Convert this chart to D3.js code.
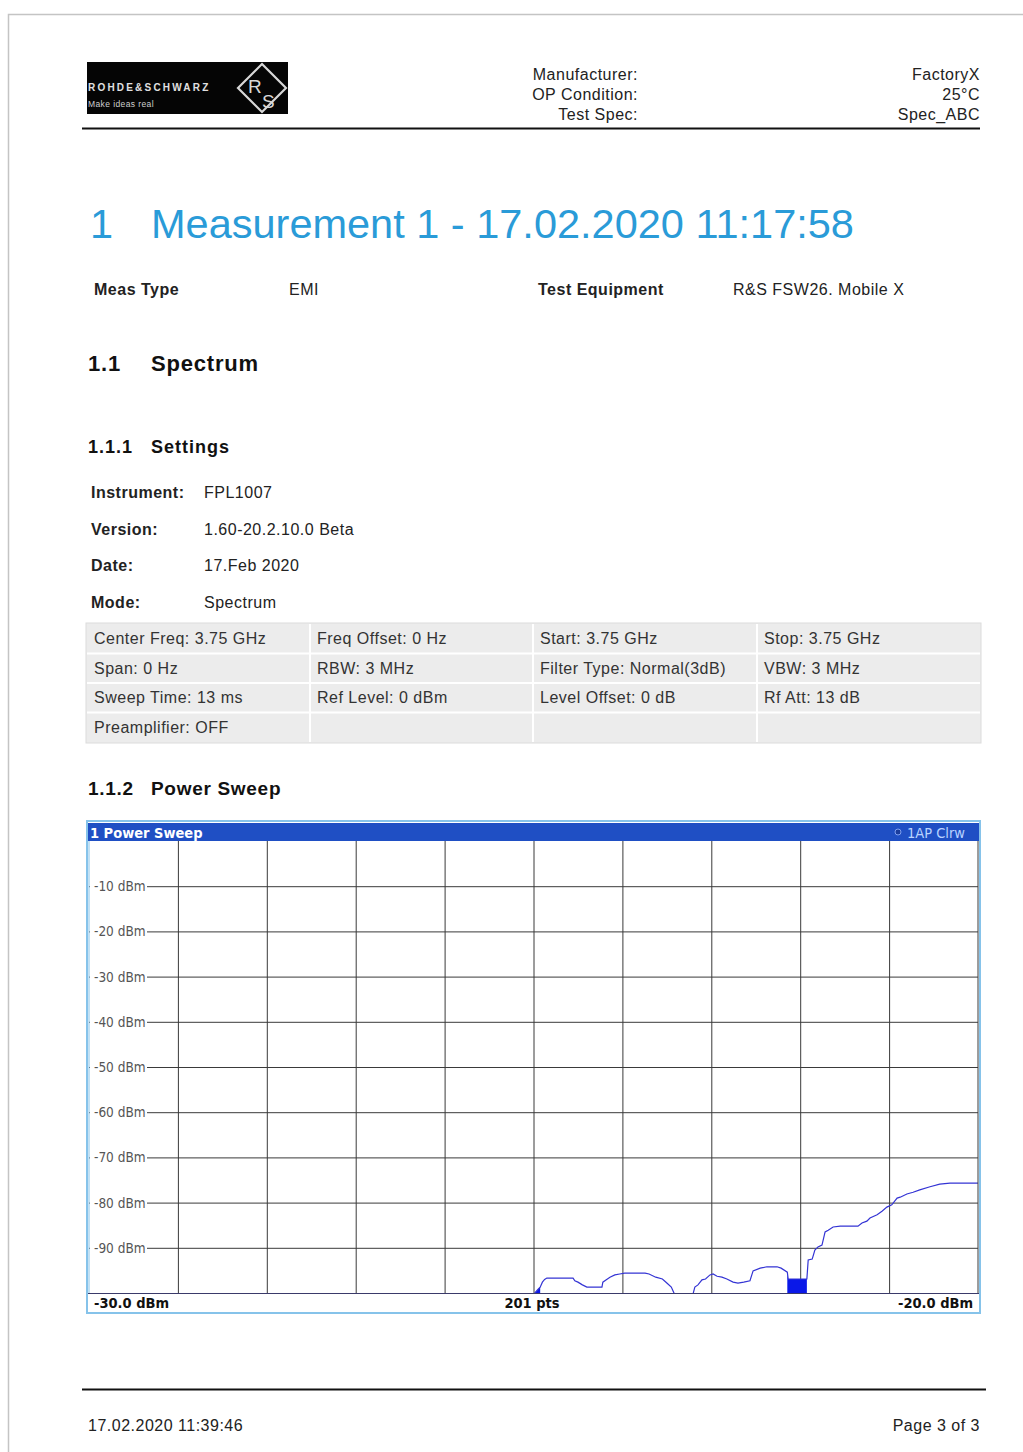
<!DOCTYPE html>
<html>
<head>
<meta charset="utf-8">
<script src="https://cdn.jsdelivr.net/npm/d3@7"></script>
<style>
  html, body { margin: 0; padding: 0; background: #fff; }
  svg { display: block; }
  text { font-family: "Liberation Sans", Arial, sans-serif; }
  .instr { font-family: "DejaVu Sans Condensed", "Liberation Sans Narrow", sans-serif; }
</style>
</head>
<body>
<script>
// ---- report header / settings ----
const headerLabels = ["Manufacturer:", "OP Condition:", "Test Spec:"];
const headerValues = ["FactoryX", "25°C", "Spec_ABC"];
const infoLabels = ["Instrument:", "Version:", "Date:", "Mode:"];
const infoValues = ["FPL1007", "1.60-20.2.10.0 Beta", "17.Feb 2020", "Spectrum"];
const settingsRows = [
  ["Center Freq: 3.75 GHz", "Freq Offset: 0 Hz", "Start: 3.75 GHz", "Stop: 3.75 GHz"],
  ["Span: 0 Hz", "RBW: 3 MHz", "Filter Type: Normal(3dB)", "VBW: 3 MHz"],
  ["Sweep Time: 13 ms", "Ref Level: 0 dBm", "Level Offset: 0 dB", "Rf Att: 13 dB"],
  ["Preamplifier: OFF", "", "", ""]
];

// ---- power sweep trace (201 sweep points, level in dBm) ----
const sweepPoints = 201;
const levelTicks = [-10, -20, -30, -40, -50, -60, -70, -80, -90];
const levelTickLabels = ["-10 dBm", "-20 dBm", "-30 dBm", "-40 dBm", "-50 dBm", "-60 dBm", "-70 dBm", "-80 dBm", "-90 dBm"];
const gridPoints = [20, 40, 60, 80, 100, 120, 140, 160, 180];
// trace vertices: sweep point index and measured level
const traceIndex = [99.9, 100.3, 101.0, 101.5, 102.0, 102.5, 103.0, 108.9, 109.3, 110.0, 111.0, 112.0,
  115.4, 115.6, 116.3, 117.2, 118.3, 119.4, 120.5, 125.1, 126.0, 127.5, 129.0, 130.0, 131.0, 131.6,
  131.8, 135.7, 136.0, 136.3, 137.0, 137.9, 138.7, 139.7, 140.4, 141.3, 142.4, 143.5, 144.9, 146.0,
  147.3, 148.7, 149.4, 151.0, 152.5, 154.8, 155.7, 157.1, 157.3, 161.5, 161.8, 162.7, 163.3, 164.0,
  164.9, 165.6, 166.3, 167.4, 169.0, 173.0, 173.9, 175.0, 175.7, 177.3, 178.4, 179.5, 180.6, 181.8,
  182.5, 184.0, 185.4, 186.9, 189.2, 191.4, 193.7, 200];
const traceLevel = [-100.5, -100, -99.2, -98.7, -97.6, -97.0, -96.7, -96.7, -97.3, -97.6, -98.2, -98.7,
  -98.7, -97.6, -97.1, -96.5, -96.0, -95.8, -95.6, -95.6, -95.8, -96.5, -96.9, -97.8, -98.7, -100,
  -101, -101, -99.8, -98.7, -98.2, -97.1, -96.9, -96.0, -95.8, -96.3, -96.5, -96.9, -97.6, -97.8,
  -97.6, -97.3, -95.1, -94.5, -94.2, -94.2, -94.5, -95.4, -96.9, -96.9, -92.7, -92.5, -90.5, -89.8,
  -89.4, -86.5, -86.1, -85.4, -85.2, -85.2, -84.5, -84.1, -83.4, -82.7, -81.9, -81.0, -80.5, -79.0,
  -78.8, -78.1, -77.7, -77.2, -76.5, -75.9, -75.7, -75.7];
// sweep point ranges where auto peak min/max spread fills down below the display
const burstStart = [100.3, 157.1];
const burstEnd = [101.5, 161.5];

const W = 1023, H = 1452;
const svg = d3.select("body").append("svg").attr("width", W).attr("height", H);
svg.append("rect").attr("width", W).attr("height", H).attr("fill", "#fff");

// body text helper (report font)
function txt(xp, yp, s, opts = {}) {
  const t = svg.append("text").attr("x", xp).attr("y", yp).text(s)
    .attr("font-size", opts.size || 16)
    .attr("letter-spacing", opts.ls != null ? opts.ls : 0.5)
    .attr("fill", opts.fill || "#222");
  if (opts.bold) t.attr("font-weight", "bold");
  if (opts.anchor) t.attr("text-anchor", opts.anchor);
  return t;
}

// page edge
svg.append("path").attr("d", "M8.5,1452 V14.5 H1023").attr("fill", "none").attr("stroke", "#c4c4c4").attr("stroke-width", 1.5);

// ---- logo ----
const logo = svg.append("g");
logo.append("rect").attr("x", 87).attr("y", 62).attr("width", 201).attr("height", 52).attr("fill", "#050505");
logo.append("text").attr("x", 88).attr("y", 91).text("ROHDE&SCHWARZ")
  .attr("fill", "#e0e0e0").attr("font-size", 10).attr("font-weight", "bold").attr("letter-spacing", 2.2);
logo.append("text").attr("x", 88).attr("y", 107).text("Make ideas real")
  .attr("fill", "#cfcfcf").attr("font-size", 8.5).attr("letter-spacing", 0.4);
logo.append("path").attr("d", "M262,64 L286,88 L262,112 L238,88 Z")
  .attr("fill", "none").attr("stroke", "#d8d8d8").attr("stroke-width", 2.2);
logo.append("text").attr("x", 248).attr("y", 93).text("R").attr("fill", "#d8d8d8").attr("font-size", 19);
logo.append("text").attr("x", 262).attr("y", 108).text("S").attr("fill", "#d8d8d8").attr("font-size", 19);

// ---- header ----
headerLabels.forEach((t, i) => txt(638, 80 + i * 20, t, { anchor: "end" }));
headerValues.forEach((t, i) => txt(980, 80 + i * 20, t, { anchor: "end" }));
svg.append("line").attr("x1", 82).attr("x2", 980).attr("y1", 128.5).attr("y2", 128.5)
  .attr("stroke", "#111").attr("stroke-width", 2);

// ---- title ----
txt(90, 238, "1", { size: 41.5, ls: 0, fill: "#2a9bd8" });
txt(151, 238, "Measurement 1 - 17.02.2020 11:17:58", { size: 41.5, ls: 0, fill: "#2a9bd8" });

txt(94, 295, "Meas Type", { bold: true });
txt(289, 295, "EMI");
txt(538, 295, "Test Equipment", { bold: true });
txt(733, 295, "R&S FSW26. Mobile X");

txt(88, 371, "1.1", { size: 22, ls: 0.8, bold: true, fill: "#111" });
txt(151, 371, "Spectrum", { size: 22, ls: 0.8, bold: true, fill: "#111" });

txt(88, 453, "1.1.1", { size: 18, ls: 1.0, bold: true, fill: "#111" });
txt(151, 453, "Settings", { size: 18, ls: 1.0, bold: true, fill: "#111" });

infoLabels.forEach((t, i) => txt(91, 498 + i * 36.5, t, { bold: true }));
infoValues.forEach((t, i) => txt(204, 498 + i * 36.5, t));

// ---- settings table ----
const colX = [87, 310, 533, 757, 980], rowY0 = 624, rowH = 29.5;
svg.append("rect").attr("x", 86).attr("y", 623).attr("width", 895).attr("height", 120)
  .attr("fill", "#ececec").attr("stroke", "#dcdcdc");
settingsRows.forEach((row, r) => {
  row.forEach((cell, c) => txt(colX[c] + 7, rowY0 + r * rowH + 20, cell, { fill: "#333" }));
  if (r > 0) svg.append("line").attr("x1", 87).attr("x2", 980).attr("y1", rowY0 + r * rowH).attr("y2", rowY0 + r * rowH)
    .attr("stroke", "#fff").attr("stroke-width", 2);
});
colX.slice(1, 4).forEach(cx => {
  svg.append("line").attr("x1", cx).attr("x2", cx).attr("y1", 624).attr("y2", 742).attr("stroke", "#fff").attr("stroke-width", 2);
});

txt(88, 795, "1.1.2", { size: 19, ls: 0.7, bold: true, fill: "#111" });
txt(151, 795, "Power Sweep", { size: 19, ls: 0.7, bold: true, fill: "#111" });

// ---- power sweep diagram ----
const plot = { left: 89, right: 978, top: 841, bottom: 1293 };
const x = d3.scaleLinear().domain([0, sweepPoints - 1]).range([plot.left, plot.right]);
const y = d3.scaleLinear().domain([0, -100]).range([plot.top, plot.bottom]);

const chart = svg.append("g");
chart.append("rect").attr("x", 87).attr("y", 821).attr("width", 893).attr("height", 492)
  .attr("fill", "#fff").attr("stroke", "#86c3ea").attr("stroke-width", 2);
chart.append("rect").attr("x", 88).attr("y", 823).attr("width", 891).attr("height", 18).attr("fill", "#1f4fc4");
chart.append("text").attr("class", "instr").attr("x", 90).attr("y", 838).attr("font-size", 14.5)
  .attr("font-weight", "bold").attr("fill", "#fff").text("1 Power Sweep");
chart.append("circle").attr("cx", 898).attr("cy", 832).attr("r", 3).attr("fill", "#1a3c9c").attr("stroke", "#7fa0f0");
chart.append("text").attr("class", "instr").attr("x", 965).attr("y", 838).attr("text-anchor", "end")
  .attr("font-size", 14.5).attr("fill", "#b9d3ff").text("1AP Clrw");

// grid through the axes
chart.append("g").attr("transform", `translate(0,${plot.bottom})`)
  .call(d3.axisBottom(x).tickValues(gridPoints).tickSize(-(plot.bottom - plot.top)).tickFormat(""))
  .call(g => g.select(".domain").remove())
  .call(g => g.selectAll("line").attr("stroke", "#3a3a3a").attr("stroke-width", 1));
chart.append("g").attr("transform", `translate(${plot.left},0)`)
  .call(d3.axisRight(y).tickValues(levelTicks).tickSize(plot.right - plot.left).tickFormat(""))
  .call(g => g.select(".domain").remove())
  .call(g => g.selectAll("line").attr("stroke", "#3a3a3a").attr("stroke-width", 1));

// level labels with white backing
levelTicks.forEach((v, i) => {
  chart.append("rect").attr("x", plot.left + 1).attr("y", y(v) - 7).attr("width", 57).attr("height", 14).attr("fill", "#fff");
  chart.append("text").attr("class", "instr").attr("x", 94).attr("y", y(v) + 5)
    .attr("font-size", 13.5).attr("fill", "#555").text(levelTickLabels[i]);
});

chart.append("clipPath").attr("id", "plotclip").append("rect")
  .attr("x", plot.left).attr("y", plot.top).attr("width", plot.right - plot.left).attr("height", plot.bottom - plot.top);

const trace = traceIndex.map((t, i) => [t, traceLevel[i]]);
const traceG = chart.append("g").attr("clip-path", "url(#plotclip)");
burstStart.forEach((s, k) => {
  const seg = trace.filter(d => d[0] >= s && d[0] <= burstEnd[k]);
  traceG.append("path").datum(seg)
    .attr("d", d3.area().x(d => x(d[0])).y0(y(-100)).y1(d => y(d[1])))
    .attr("fill", "#0a18e8");
});
traceG.append("path").datum(trace)
  .attr("d", d3.line().x(d => x(d[0])).y(d => y(d[1])))
  .attr("fill", "none").attr("stroke", "#3434d4").attr("stroke-width", 1.2);

// bottom status strip
chart.append("line").attr("x1", 88).attr("x2", 979).attr("y1", plot.bottom + 0.5).attr("y2", plot.bottom + 0.5)
  .attr("stroke", "#3a3a6a").attr("stroke-width", 1.2);
chart.append("line").attr("x1", plot.left).attr("x2", plot.left).attr("y1", plot.top).attr("y2", plot.bottom).attr("stroke", "#86c3ea");
chart.append("line").attr("x1", plot.right).attr("x2", plot.right).attr("y1", plot.top).attr("y2", plot.bottom).attr("stroke", "#3a3a3a");
chart.append("text").attr("class", "instr").attr("x", 94).attr("y", 1308).attr("font-size", 14.5)
  .attr("font-weight", "bold").attr("fill", "#111").text("-30.0 dBm");
chart.append("text").attr("class", "instr").attr("x", 532).attr("y", 1308).attr("text-anchor", "middle").attr("font-size", 14.5)
  .attr("font-weight", "bold").attr("fill", "#111").text(sweepPoints + " pts");
chart.append("text").attr("class", "instr").attr("x", 973).attr("y", 1308).attr("text-anchor", "end").attr("font-size", 14.5)
  .attr("font-weight", "bold").attr("fill", "#111").text("-20.0 dBm");

// ---- footer ----
svg.append("line").attr("x1", 82).attr("x2", 986).attr("y1", 1389.5).attr("y2", 1389.5).attr("stroke", "#111").attr("stroke-width", 2);
txt(88, 1431, "17.02.2020 11:39:46");
txt(980, 1431, "Page 3 of 3", { anchor: "end" });
</script>
</body>
</html>
